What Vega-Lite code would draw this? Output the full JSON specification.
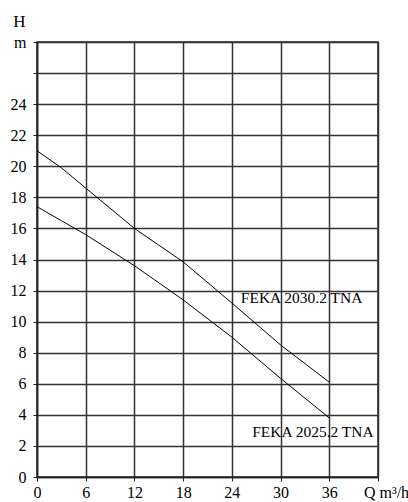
{
  "$schema": "https://vega.github.io/schema/vega-lite/v6.json",
  "width": 341,
  "height": 435,
  "autosize": "none",
  "padding": {"left": 37, "top": 42, "right": 30, "bottom": 25},
  "background": "white",
  "config": {
    "view": {"stroke": "#222", "strokeWidth": 1.5},
    "font": "Liberation Serif"
  },
  "datasets": {
    "curves": [
      {"model": "FEKA 2030.2 TNA", "Q": 0, "H": 21.0},
      {"model": "FEKA 2030.2 TNA", "Q": 3, "H": 19.9},
      {"model": "FEKA 2030.2 TNA", "Q": 6, "H": 18.6},
      {"model": "FEKA 2030.2 TNA", "Q": 12, "H": 16.0},
      {"model": "FEKA 2030.2 TNA", "Q": 18, "H": 13.85},
      {"model": "FEKA 2030.2 TNA", "Q": 24, "H": 11.2},
      {"model": "FEKA 2030.2 TNA", "Q": 30, "H": 8.5},
      {"model": "FEKA 2030.2 TNA", "Q": 36, "H": 6.1},
      {"model": "FEKA 2025.2 TNA", "Q": 0, "H": 17.4},
      {"model": "FEKA 2025.2 TNA", "Q": 3, "H": 16.5},
      {"model": "FEKA 2025.2 TNA", "Q": 6, "H": 15.6},
      {"model": "FEKA 2025.2 TNA", "Q": 12, "H": 13.6},
      {"model": "FEKA 2025.2 TNA", "Q": 18, "H": 11.4},
      {"model": "FEKA 2025.2 TNA", "Q": 24, "H": 9.0},
      {"model": "FEKA 2025.2 TNA", "Q": 30, "H": 6.35},
      {"model": "FEKA 2025.2 TNA", "Q": 36, "H": 3.8}
    ],
    "labels": [
      {"label": "FEKA 2030.2 TNA", "Q": 25.1, "H": 11.18},
      {"label": "FEKA 2025.2 TNA", "Q": 26.5, "H": 2.55}
    ]
  },
  "encoding": {
    "x": {
      "field": "Q",
      "type": "quantitative",
      "scale": {"domain": [0, 42], "nice": false, "zero": false},
      "axis": {
        "title": null,
        "values": [0, 6, 12, 18, 24, 30, 36, 42],
        "labelExpr": "datum.value == 42 ? 'Q m³/h' : datum.label",
        "labelFlush": false,
        "labelOverlap": false,
        "labelFont": "Liberation Serif",
        "labelFontSize": 16,
        "labelColor": "black",
        "labelPadding": 3,
        "labelOffset": {"condition": {"test": "datum.value == 42", "value": 8}, "value": 0},
        "tickSize": 4,
        "tickColor": "#222",
        "domainColor": "#222",
        "domainWidth": 1.5,
        "gridColor": "#333",
        "gridWidth": 1.5,
        "gridOpacity": 1
      }
    },
    "y": {
      "field": "H",
      "type": "quantitative",
      "scale": {"domain": [0, 28], "nice": false, "zero": false},
      "axis": {
        "title": "H",
        "titleAngle": 0,
        "titleFont": "Liberation Serif",
        "titleFontSize": 17,
        "titleFontWeight": "normal",
        "titleColor": "black",
        "titleX": -18,
        "titleY": -16,
        "titleAlign": "center",
        "titleBaseline": "alphabetic",
        "values": [0, 2, 4, 6, 8, 10, 12, 14, 16, 18, 20, 22, 24, 26, 28],
        "labelExpr": "datum.value == 28 ? 'm' : datum.value == 26 ? '' : datum.label",
        "labelOverlap": false,
        "labelFlush": false,
        "labelFont": "Liberation Serif",
        "labelFontSize": 16,
        "labelColor": "black",
        "labelPadding": 7,
        "tickSize": 4,
        "tickColor": "#222",
        "domainColor": "#222",
        "domainWidth": 1.5,
        "gridColor": "#333",
        "gridWidth": 1.5,
        "gridOpacity": 1
      }
    }
  },
  "layer": [
    {
      "data": {"name": "curves"},
      "mark": {"type": "line", "color": "black", "strokeWidth": 1},
      "encoding": {
        "detail": {"field": "model", "type": "nominal"}
      }
    },
    {
      "data": {"name": "labels"},
      "mark": {
        "type": "text",
        "align": "left",
        "baseline": "alphabetic",
        "font": "Liberation Serif",
        "fontSize": 15.5,
        "color": "black"
      },
      "encoding": {
        "text": {"field": "label"}
      }
    }
  ]
}
